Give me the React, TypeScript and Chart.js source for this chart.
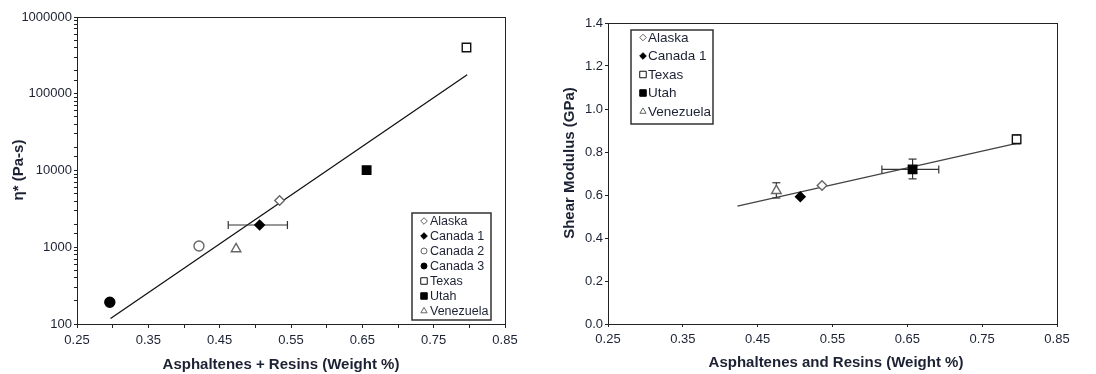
import React, { useEffect, useRef } from 'react';
import { Chart, registerables } from 'chart.js';
import { drawPoint } from 'chart.js/helpers';

Chart.register(...registerables);

const FONT = "'Liberation Sans', Arial, Helvetica, sans-serif";
const TEXT = '#1c2233';
const AXIS = '#222';

// ---------- Left chart data (complex viscosity, log scale) ----------
const leftNames = ['Alaska', 'Canada 1', 'Canada 2', 'Canada 3', 'Texas', 'Utah', 'Venezuela'];
const leftX = [0.534, 0.506, 0.421, 0.296, 0.796, 0.656, 0.473];
const leftY = [4060, 1950, 1040, 192, 400000, 10100, 950];
const leftXErrLow = [null, 0.462, null, null, null, null, null];
const leftXErrHigh = [null, 0.545, null, null, null, null, null];
const leftTrendX = [0.297, 0.797];
const leftTrendY = [118, 177000];
const leftXTickLabels = ['0.25', '0.35', '0.45', '0.55', '0.65', '0.75', '0.85'];
const leftYTickLabels = ['100', '1000', '10000', '100000', '1000000'];

// ---------- Right chart data (shear modulus) ----------
const rightNames = ['Alaska', 'Canada 1', 'Texas', 'Utah', 'Venezuela'];
const rightX = [0.536, 0.507, 0.796, 0.657, 0.475];
const rightY = [0.644, 0.592, 0.859, 0.719, 0.62];
const rightXErrLow = [null, null, null, 0.616, null];
const rightXErrHigh = [null, null, null, 0.692, null];
const rightYErrLow = [null, null, 0.838, 0.675, 0.586];
const rightYErrHigh = [null, null, 0.88, 0.767, 0.657];
const rightTrendX = [0.423, 0.796];
const rightTrendY = [0.548, 0.84];
const rightXTickLabels = ['0.25', '0.35', '0.45', '0.55', '0.65', '0.75', '0.85'];
const rightYTickLabels = ['0.0', '0.2', '0.4', '0.6', '0.8', '1.0', '1.2', '1.4'];

// marker look per series name
const markerStyle: Record<string, { style: string; filled: boolean }> = {
  'Alaska': { style: 'rectRot', filled: false },
  'Canada 1': { style: 'rectRot', filled: true },
  'Canada 2': { style: 'circle', filled: false },
  'Canada 3': { style: 'circle', filled: true },
  'Texas': { style: 'rect', filled: false },
  'Utah': { style: 'rect', filled: true },
  'Venezuela': { style: 'triangle', filled: false },
};
const markerRadius: Record<string, number> = { rectRot: 4.8, circle: 5, rect: 6, triangle: 5.5 };
const legendRadius: Record<string, number> = { rectRot: 3.3, circle: 3, rect: 4.6, triangle: 3.6 };

function markerColors(name: string) {
  const m = markerStyle[name];
  if (m.filled) return { bg: '#000', border: '#000' };
  if (m.style === 'rect') return { bg: '#fff', border: '#111' };
  return { bg: '#fff', border: '#666' };
}

function buildDatasets(names: string[], xs: number[], ys: number[],
  xLo: (number | null)[], xHi: (number | null)[], yLo: (number | null)[], yHi: (number | null)[],
  tx: number[], ty: number[], lineColor: string, lineWidth: number) {
  const ds: any[] = [];
  names.forEach((n, i) => {
    const m = markerStyle[n];
    const c = markerColors(n);
    ds.push({
      type: 'scatter', label: n, order: 0,
      data: [{ x: xs[i], y: ys[i] }],
      pointStyle: m.style, pointRadius: markerRadius[m.style],
      pointBackgroundColor: c.bg, pointBorderColor: c.border, pointBorderWidth: 1.4,
    });
  });
  names.forEach((n, i) => {
    if (xLo[i] != null && xHi[i] != null) {
      ds.push({
        type: 'line', label: n + ' x-err', order: 2, showLine: true,
        data: [{ x: xLo[i], y: ys[i] }, { x: xHi[i], y: ys[i] }],
        borderColor: '#333', borderWidth: 1.2, pointStyle: 'line', rotation: 90,
        pointRadius: 4, pointBorderColor: '#333', pointBorderWidth: 1.2,
      });
    }
    if (yLo[i] != null && yHi[i] != null) {
      ds.push({
        type: 'line', label: n + ' y-err', order: 2, showLine: true,
        data: [{ x: xs[i], y: yLo[i] }, { x: xs[i], y: yHi[i] }],
        borderColor: '#333', borderWidth: 1.2, pointStyle: 'line', rotation: 0,
        pointRadius: 4, pointBorderColor: '#333', pointBorderWidth: 1.2,
      });
    }
  });
  ds.push({
    type: 'line', label: 'trend', order: 3, showLine: true,
    data: tx.map((x, i) => ({ x, y: ty[i] })),
    borderColor: lineColor, borderWidth: lineWidth, pointRadius: 0,
  });
  return ds;
}

const frameAndText = {
  id: 'frameAndText',
  afterDraw(chart: any, _args: any, opts: any) {
    const ctx = chart.ctx;
    const a = chart.chartArea;
    ctx.save();
    // frame
    ctx.strokeStyle = AXIS;
    ctx.lineWidth = 1;
    ctx.strokeRect(Math.round(a.left) + 0.5, Math.round(a.top) + 0.5,
      Math.round(a.right - a.left), Math.round(a.bottom - a.top));
    // axis titles
    ctx.fillStyle = TEXT;
    ctx.font = `bold ${opts.titleSize}px ${FONT}`;
    ctx.textAlign = 'center';
    ctx.textBaseline = 'middle';
    ctx.fillText(opts.xTitle, opts.xTitlePos[0], opts.xTitlePos[1]);
    ctx.translate(opts.yTitlePos[0], opts.yTitlePos[1]);
    ctx.rotate(-Math.PI / 2);
    ctx.fillText(opts.yTitle, 0, 0);
    ctx.setTransform(1, 0, 0, 1, 0, 0);
    ctx.restore();
    // legend
    const L = opts.legend;
    ctx.save();
    ctx.fillStyle = '#fff';
    ctx.fillRect(L.x, L.y, L.w, L.h);
    ctx.strokeStyle = '#333';
    ctx.lineWidth = 1.5;
    ctx.strokeRect(L.x, L.y, L.w, L.h);
    ctx.font = `${L.fontSize}px ${FONT}`;
    ctx.textAlign = 'left';
    ctx.textBaseline = 'middle';
    L.names.forEach((n: string, i: number) => {
      const m = markerStyle[n];
      const c = markerColors(n);
      const y = L.firstRow + i * L.rowGap;
      ctx.fillStyle = c.bg;
      ctx.strokeStyle = c.border;
      ctx.lineWidth = 1;
      drawPoint(ctx, { pointStyle: m.style, radius: legendRadius[m.style], rotation: 0, borderWidth: 1 } as any, L.markerX, y);
      ctx.fillStyle = TEXT;
      ctx.fillText(n, L.textX, y + 0.5);
    });
    ctx.restore();
  },
};

function labelFrom(list: string[], v: number, dec: number) {
  const s = v.toFixed(dec);
  return list.includes(s) ? s : '';
}

function ChartBox({ build }: { build: (c: HTMLCanvasElement) => Chart }) {
  const ref = useRef<HTMLCanvasElement | null>(null);
  useEffect(() => {
    if (!ref.current) return;
    const ch = build(ref.current);
    return () => ch.destroy();
  }, []);
  return (
    <div style={{ width: 548, height: 374, position: 'relative' }}>
      <canvas ref={ref} width={548} height={374} style={{ display: 'block', width: 548, height: 374 }} />
    </div>
  );
}

function buildLeft(canvas: HTMLCanvasElement) {
  return new Chart(canvas, {
    type: 'scatter',
    data: {
      datasets: buildDatasets(leftNames, leftX, leftY, leftXErrLow, leftXErrHigh,
        leftNames.map(() => null), leftNames.map(() => null), leftTrendX, leftTrendY, '#111', 1.3),
    },
    options: {
      responsive: false,
      animation: false,
      devicePixelRatio: 1,
      layout: { padding: { left: 0, right: 43, top: 17, bottom: 0 } },
      plugins: {
        legend: { display: false },
        tooltip: { enabled: false },
        frameAndText: {
          titleSize: 15,
          xTitle: 'Asphaltenes + Resins (Weight %)', xTitlePos: [281, 365],
          yTitle: 'η* (Pa-s)', yTitlePos: [19, 170],
          legend: {
            x: 412, y: 213, w: 79, h: 107, fontSize: 12.5, names: leftNames,
            markerX: 424, textX: 430, firstRow: 221, rowGap: 15,
          },
        },
      } as any,
      scales: {
        x: {
          type: 'linear', min: 0.25, max: 0.85,
          afterFit: (s: any) => { s.height = 50; },
          ticks: {
            stepSize: 0.05, autoSkip: false, maxRotation: 0, padding: 5,
            color: TEXT, font: { family: FONT, size: 13 },
            callback: (v: any) => labelFrom(leftXTickLabels, Number(v), 2),
          },
          grid: { drawOnChartArea: false, drawTicks: true, tickLength: 4, tickColor: AXIS },
          border: { display: true, color: AXIS, width: 1 },
        },
        y: {
          type: 'logarithmic', min: 100, max: 1000000,
          afterFit: (s: any) => { s.width = 77; },
          ticks: {
            autoSkip: false, padding: 2, color: TEXT, font: { family: FONT, size: 13 },
            callback: (v: any) => labelFrom(leftYTickLabels, Number(v), 0),
          },
          grid: { drawOnChartArea: false, drawTicks: true, tickLength: 3, tickColor: AXIS },
          border: { display: true, color: AXIS, width: 1 },
        },
      },
    } as any,
    plugins: [frameAndText],
  });
}

function buildRight(canvas: HTMLCanvasElement) {
  return new Chart(canvas, {
    type: 'scatter',
    data: {
      datasets: buildDatasets(rightNames, rightX, rightY, rightXErrLow, rightXErrHigh,
        rightYErrLow, rightYErrHigh, rightTrendX, rightTrendY, '#444', 1.4),
    },
    options: {
      responsive: false,
      animation: false,
      devicePixelRatio: 1,
      layout: { padding: { left: 0, right: 39, top: 23, bottom: 0 } },
      plugins: {
        legend: { display: false },
        tooltip: { enabled: false },
        frameAndText: {
          titleSize: 15,
          xTitle: 'Asphaltenes and Resins (Weight %)', xTitlePos: [288, 363],
          yTitle: 'Shear Modulus (GPa)', yTitlePos: [22, 163],
          legend: {
            x: 83, y: 30, w: 82, h: 94, fontSize: 13.5, names: rightNames,
            markerX: 95, textX: 100, firstRow: 37.5, rowGap: 18.5,
          },
        },
      } as any,
      scales: {
        x: {
          type: 'linear', min: 0.25, max: 0.85,
          afterFit: (s: any) => { s.height = 50; },
          ticks: {
            stepSize: 0.1, autoSkip: false, maxRotation: 0, padding: 5,
            color: TEXT, font: { family: FONT, size: 13 },
            callback: (v: any) => labelFrom(rightXTickLabels, Number(v), 2),
          },
          grid: { drawOnChartArea: false, drawTicks: true, tickLength: 3, tickColor: AXIS },
          border: { display: true, color: AXIS, width: 1 },
        },
        y: {
          type: 'linear', min: 0, max: 1.4,
          afterFit: (s: any) => { s.width = 60; },
          ticks: {
            stepSize: 0.2, autoSkip: false, padding: 2, color: TEXT, font: { family: FONT, size: 13 },
            callback: (v: any) => labelFrom(rightYTickLabels, Number(v), 1),
          },
          grid: { drawOnChartArea: false, drawTicks: true, tickLength: 3, tickColor: AXIS },
          border: { display: true, color: AXIS, width: 1 },
        },
      },
    } as any,
    plugins: [frameAndText],
  });
}

export default function App() {
  useEffect(() => {
    document.body.style.margin = '0';
    document.body.style.background = '#fff';
  }, []);
  return (
    <div style={{ display: 'flex', width: 1096, height: 374, background: '#fff' }}>
      <ChartBox build={buildLeft} />
      <ChartBox build={buildRight} />
    </div>
  );
}
